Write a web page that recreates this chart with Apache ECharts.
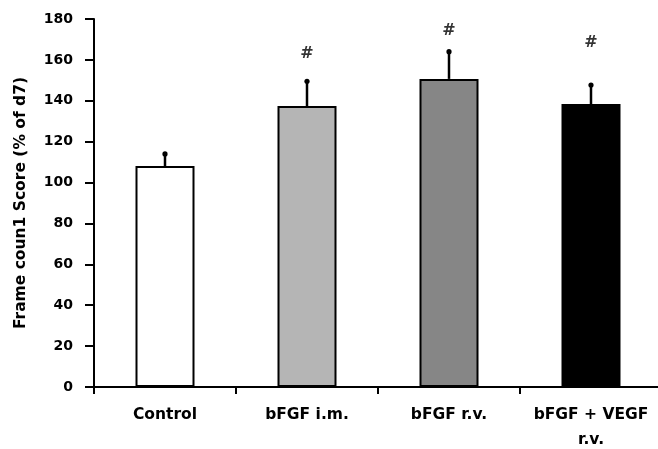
<!DOCTYPE html>
<html>
<head>
<meta charset="utf-8">
<script src="https://cdn.jsdelivr.net/npm/echarts@6/dist/echarts.min.js"></script>
<style>
  html, body { margin: 0; padding: 0; background: #fff; }
  #chart { width: 658px; height: 449px; }
</style>
</head>
<body>
<div id="chart"></div>
<script>
const categories = ['Control', 'bFGF i.m.', 'bFGF r.v.', 'bFGF + VEGF\nr.v.'];
const means = [108.1, 137.4, 150.7, 138.4];
const errorTops = [114.0, 149.5, 164.0, 147.7];
const markerY = ['-', 162.9, 174.1, 168.5];
const markerText = '#';
const barColors = ['#ffffff', '#b5b5b5', '#868686', '#000000'];
const yTicks = { min: 0, max: 180, interval: 20 };

const FONT = 'DejaVu Sans';
const chart = echarts.init(document.getElementById('chart'), null, { renderer: 'canvas' });

chart.setOption({
  animation: false,
  backgroundColor: '#ffffff',
  grid: { left: 94, top: 19, width: 568, height: 368, containLabel: false, outerBoundsMode: 'none' },
  xAxis: {
    type: 'category',
    data: categories,
    axisLine: { show: true, lineStyle: { color: '#000', width: 2 } },
    axisTick: { show: true, length: 7, lineStyle: { color: '#000', width: 2 } },
    axisLabel: {
      color: '#000', fontFamily: FONT, fontWeight: 'bold', fontSize: 15.5,
      margin: 15, lineHeight: 25, interval: 0
    },
    splitLine: { show: false }
  },
  yAxis: {
    type: 'value',
    min: yTicks.min, max: yTicks.max, interval: yTicks.interval,
    name: 'Frame coun1 Score (% of d7)',
    nameLocation: 'middle',
    nameRotate: 90,
    nameGap: 65,
    nameTextStyle: { color: '#000', fontFamily: FONT, fontWeight: 'bold', fontSize: 15.5 },
    axisLine: { show: true, lineStyle: { color: '#000', width: 2 } },
    axisTick: { show: true, length: 9, lineStyle: { color: '#000', width: 2 } },
    axisLabel: { color: '#000', fontFamily: FONT, fontWeight: 'bold', fontSize: 14, margin: 21 },
    splitLine: { show: false }
  },
  series: [
    {
      type: 'bar',
      data: means.map((v, i) => ({
        value: v,
        itemStyle: { color: barColors[i], borderColor: '#000', borderWidth: 2 }
      })),
      barWidth: 59,
      z: 2
    },
    {
      type: 'custom',
      data: errorTops.map((v, i) => [i, means[i], v]),
      renderItem: function (params, api) {
        const base = api.coord([api.value(0), api.value(1)]);
        const top = api.coord([api.value(0), api.value(2)]);
        return {
          type: 'group',
          children: [
            { type: 'line', shape: { x1: base[0], y1: base[1], x2: top[0], y2: top[1] },
              style: { stroke: '#000', lineWidth: 2.5 } },
            { type: 'circle', shape: { cx: top[0], cy: top[1], r: 2.6 },
              style: { fill: '#000' } }
          ]
        };
      },
      z: 1
    },
    {
      type: 'scatter',
      data: markerY.map((v, i) => [i, v]),
      symbolSize: 0,
      label: {
        show: true, position: 'inside', formatter: markerText,
        color: '#000', fontFamily: FONT, fontWeight: 'bold', fontSize: 16
      },
      z: 3
    }
  ]
});
</script>
</body>
</html>
